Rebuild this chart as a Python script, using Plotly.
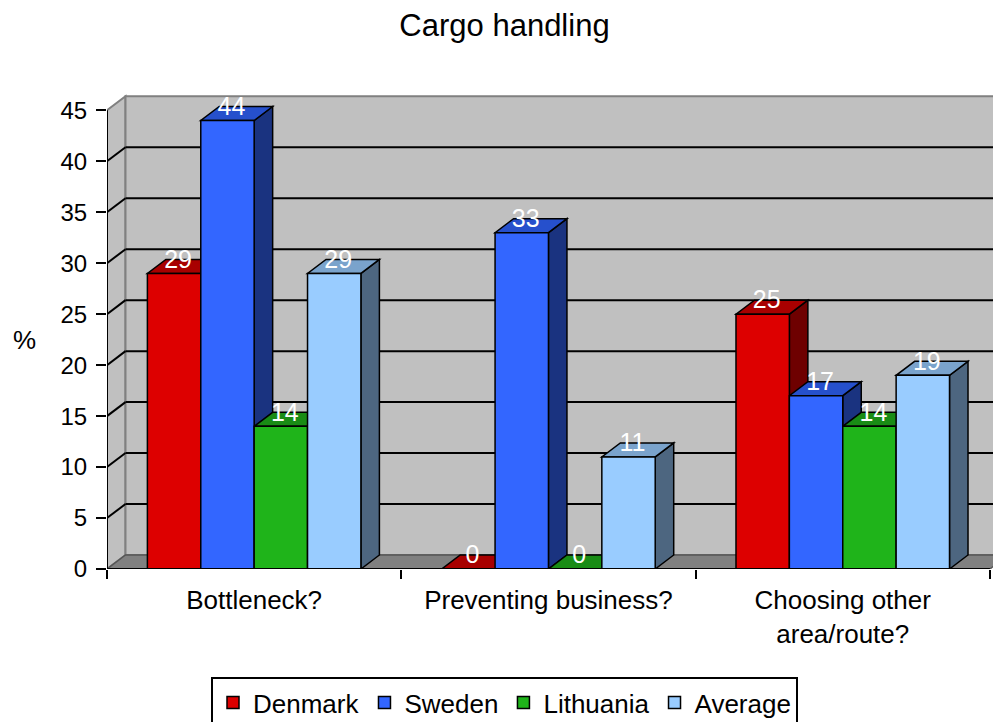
import plotly.graph_objects as go

# ---------------- data ----------------
categories = ["Bottleneck?", "Preventing business?", "Choosing other<br>area/route?"]
series_names = ["Denmark", "Sweden", "Lithuania", "Average"]
denmark = [29, 0, 25]
sweden = [44, 33, 17]
lithuania = [14, 0, 14]
average = [29, 11, 19]
y_tick_values = [0, 5, 10, 15, 20, 25, 30, 35, 40, 45]
y_max = 45

# ---------------- styles ----------------
front_colors = ["#DD0000", "#3366FF", "#1FB41A", "#99CCFF"]
top_colors = ["#A80000", "#2650CC", "#198C15", "#7AA3CC"]
side_colors = ["#6E0000", "#1A3380", "#0F5A0D", "#4D6680"]
FONT = "Liberation Sans, Arial, sans-serif"

PAGE_OFF = 8  # browser default body margin
W, H = 1001 - PAGE_OFF, 722 - PAGE_OFF
M_L, M_R, M_T, M_B = 107 - PAGE_OFF, 0, 94 - PAGE_OFF, 153
PX_PER_CAT = 294.3
plot_w = W - M_L - M_R
plot_h = H - M_T - M_B
x_lo = -0.5
x_hi = x_lo + plot_w / PX_PER_CAT
y_hi = 46.6
px_per_unit = plot_h / y_hi
DEPTH_PX_X, DEPTH_PX_Y = 18.5, 14.0
ddx = DEPTH_PX_X / PX_PER_CAT
ddy = DEPTH_PX_Y / px_per_unit

n_cat = len(categories)
x_right = x_lo + n_cat
group_frac = 0.7255
bar_w = group_frac / len(series_names)

values = [denmark, sweden, lithuania, average]


def path(points):
    return "M " + " L ".join(f"{x},{y}" for x, y in points) + " Z"


shapes = []
wall_fill = "#C0C0C0"
wall_edge = "#808080"
# left side wall
shapes.append(dict(type="path", layer="below", xref="x", yref="y",
                   path=path([(x_lo, 0), (x_lo + ddx, ddy), (x_lo + ddx, y_max + ddy), (x_lo, y_max)]),
                   fillcolor=wall_fill, line=dict(color=wall_edge, width=2)))
# back wall
shapes.append(dict(type="path", layer="below", xref="x", yref="y",
                   path=path([(x_lo + ddx, ddy), (x_right + ddx, ddy), (x_right + ddx, y_max + ddy), (x_lo + ddx, y_max + ddy)]),
                   fillcolor=wall_fill, line=dict(color=wall_edge, width=2)))
# floor
shapes.append(dict(type="path", layer="below", xref="x", yref="y",
                   path=path([(x_lo, 0), (x_right, 0), (x_right + ddx, ddy), (x_lo + ddx, ddy)]),
                   fillcolor="#808080", line=dict(color="#555555", width=1.5)))
# gridlines on back wall and left wall
for v in y_tick_values[1:-1]:
    shapes.append(dict(type="line", layer="below", xref="x", yref="y",
                       x0=x_lo + ddx, x1=x_right + ddx, y0=v + ddy, y1=v + ddy,
                       line=dict(color="black", width=2)))
    shapes.append(dict(type="line", layer="below", xref="x", yref="y",
                       x0=x_lo, x1=x_lo + ddx, y0=v, y1=v + ddy,
                       line=dict(color="black", width=2)))

# side and top faces of bars (below bar traces so the next bar's front hides them)
label_x, label_y, label_t = [], [], []
for c in range(n_cat):
    for k in range(len(series_names)):
        v = values[k][c]
        xl = c - group_frac / 2 + k * bar_w
        xr = xl + bar_w
        shapes.append(dict(type="path", layer="below", xref="x", yref="y",
                           path=path([(xr, 0), (xr + ddx, ddy), (xr + ddx, v + ddy), (xr, v)]),
                           fillcolor=side_colors[k], line=dict(color="black", width=1.5)))
        shapes.append(dict(type="path", layer="below", xref="x", yref="y",
                           path=path([(xl, v), (xr, v), (xr + ddx, v + ddy), (xl + ddx, v + ddy)]),
                           fillcolor=top_colors[k], line=dict(color="black", width=1.5)))
        label_x.append(xl + bar_w / 2 + 4 / PX_PER_CAT)
        label_y.append(v + 12 / px_per_unit)
        label_t.append(str(v))

# front axis lines
shapes.append(dict(type="line", layer="above", xref="x", yref="y",
                   x0=x_lo, x1=x_lo, y0=0, y1=y_max, line=dict(color="black", width=2)))
shapes.append(dict(type="line", layer="above", xref="x", yref="y",
                   x0=x_lo, x1=x_right, y0=0, y1=0, line=dict(color="black", width=2)))

fig = go.Figure()
x_pos = list(range(n_cat))
for k, name in enumerate(series_names):
    fig.add_trace(go.Bar(
        x=x_pos, y=values[k], name=name,
        width=bar_w, offset=-group_frac / 2 + k * bar_w,
        marker=dict(color=front_colors[k], line=dict(color="black", width=1.5)),
        hoverinfo="y+name",
    ))

fig.add_trace(go.Scatter(
    x=label_x, y=label_y, text=label_t, mode="text",
    textfont=dict(family=FONT, size=25, color="white"),
    textposition="middle center", showlegend=False, hoverinfo="skip", cliponaxis=False,
))

fig.update_layout(
    width=W, height=H,
    margin=dict(l=M_L, r=M_R, t=M_T, b=M_B),
    paper_bgcolor="white", plot_bgcolor="white",
    barmode="overlay",
    font=dict(family=FONT, size=26, color="black"),
    title=dict(text="Cargo handling", x=0.5, xanchor="center", y=1 - (25 - PAGE_OFF) / H, yanchor="middle",
               yref="container", font=dict(family=FONT, size=31, color="black")),
    shapes=shapes,
    showlegend=True,
    legend=dict(orientation="h", xref="container", yref="container",
                x=0.5, xanchor="center", y=1 - (677 - PAGE_OFF) / H, yanchor="top",
                bordercolor="black", borderwidth=2, bgcolor="white",
                font=dict(family=FONT, size=26, color="black"),
                itemwidth=30, traceorder="normal"),
    annotations=[dict(text="%", xref="paper", yref="paper", x=(24 - PAGE_OFF - M_L) / plot_w,
                      y=(H - M_B - (340 - PAGE_OFF)) / plot_h, showarrow=False,
                      xanchor="center", yanchor="middle",
                      font=dict(family=FONT, size=26, color="black"))],
)

fig.update_xaxes(
    range=[x_lo, x_hi], showgrid=False, zeroline=False, showline=False,
    tickmode="array", tickvals=x_pos, ticktext=categories, ticks="",
    ticklabelstandoff=13,
    tickfont=dict(family=FONT, size=26, color="black"),
    minor=dict(tickmode="array", tickvals=[x_lo + i for i in range(n_cat + 1)],
               ticks="outside", ticklen=9, tickwidth=2, tickcolor="black", showgrid=False),
    fixedrange=True,
)
fig.update_yaxes(
    range=[0, y_hi], showgrid=False, zeroline=False, showline=False,
    tickmode="array", tickvals=y_tick_values, ticks="outside", ticklen=10, tickwidth=2,
    tickcolor="black", ticklabelstandoff=4,
    tickfont=dict(family=FONT, size=24, color="black"),
    fixedrange=True,
)

fig.write_html("out.html")
